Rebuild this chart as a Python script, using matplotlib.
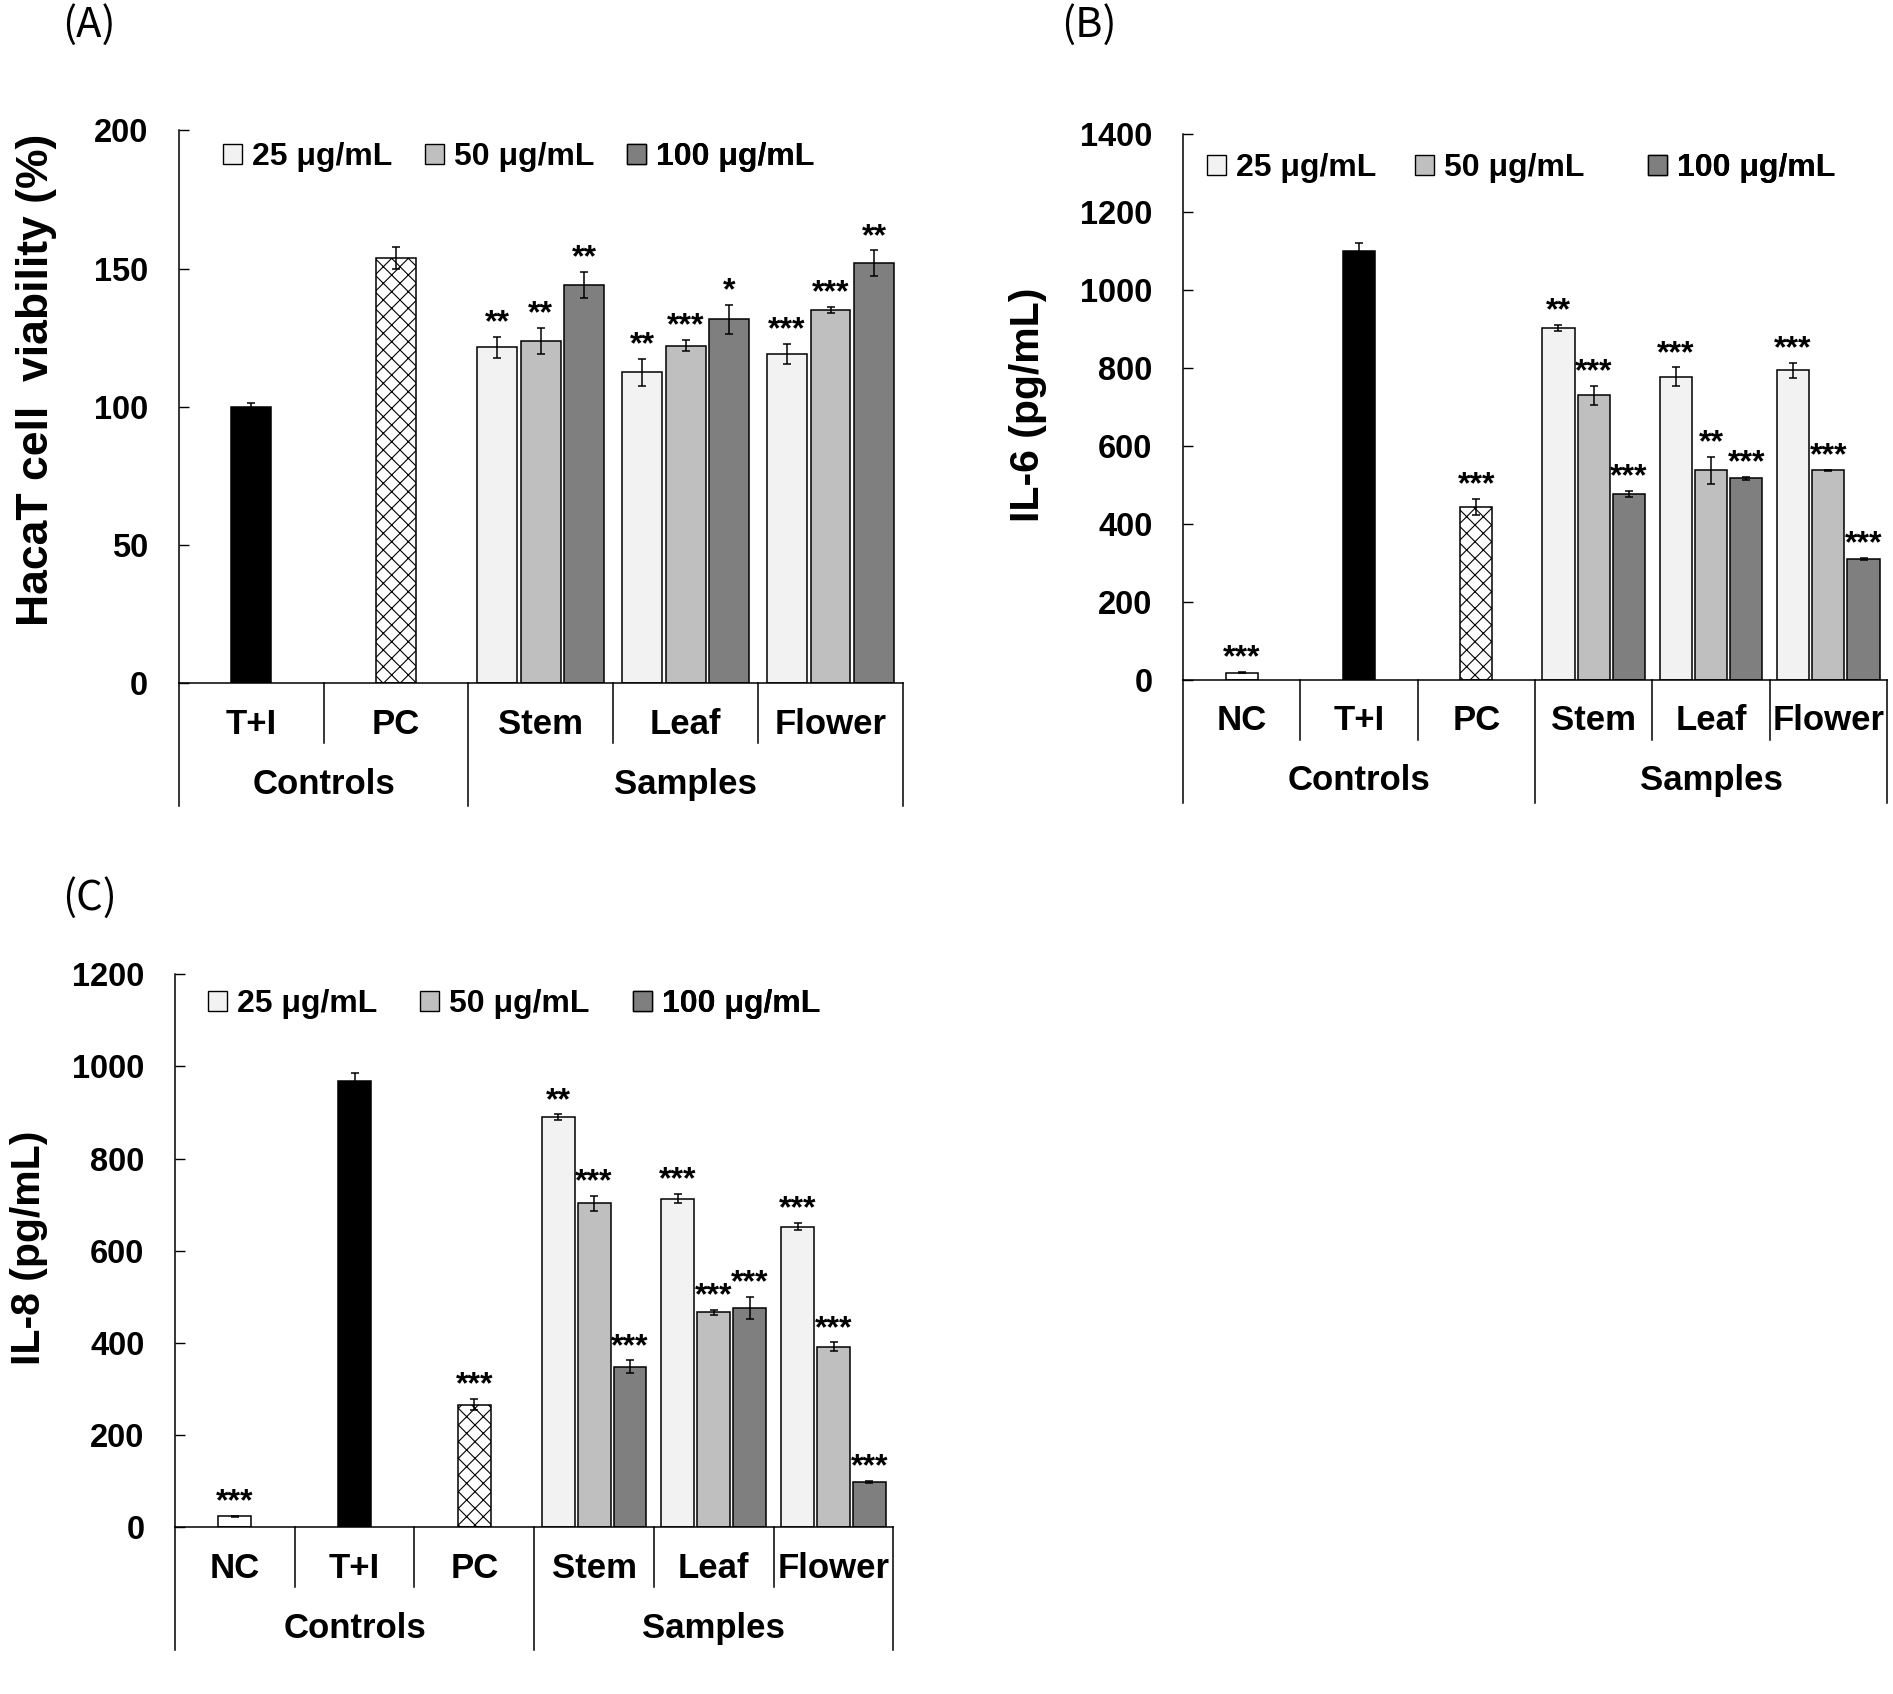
import numpy as np
import matplotlib
matplotlib.use("Agg")
import matplotlib.pyplot as plt
from matplotlib.patches import Patch
from matplotlib.transforms import blended_transform_factory

plt.rcParams['font.family'] = ['Liberation Sans', 'DejaVu Sans']
plt.rcParams['font.weight'] = 'bold'
plt.rcParams['hatch.linewidth'] = 0.8

# ---- data ----
doses = ['25 μg/mL', '50 μg/mL', '100 μg/mL']
dose_colors = ['#f2f2f2', '#bfbfbf', '#7f7f7f']
samples = ['Stem', 'Leaf', 'Flower']

# (A) HacaT viability
a_controls = ['T+I', 'PC']
a_ctrl_vals = [100, 154]
a_ctrl_err = [1.5, 4]
a_ctrl_stars = ['', '']
a_25 = [121.5, 112.5, 119.2]
a_25_err = [3.9, 4.8, 3.7]
a_50 = [123.8, 122.1, 135.1]
a_50_err = [4.8, 2.0, 1.1]
a_100 = [144.1, 131.6, 152.0]
a_100_err = [4.8, 5.3, 4.6]
a_stars = [['**', '**', '**'], ['**', '***', '*'], ['***', '***', '**']]

# (B) IL-6
b_controls = ['NC', 'T+I', 'PC']
b_ctrl_vals = [18, 1100, 443]
b_ctrl_err = [2, 20, 20]
b_ctrl_stars = ['***', '', '***']
b_25 = [902, 777, 794]
b_25_err = [8.5, 24, 19]
b_50 = [730, 537, 537]
b_50_err = [24, 35, 2]
b_100 = [477, 517, 309]
b_100_err = [7, 4, 3]
b_stars = [['**', '***', '***'], ['***', '**', '***'], ['***', '***', '***']]

# (C) IL-8
c_controls = ['NC', 'T+I', 'PC']
c_ctrl_vals = [24, 969, 266]
c_ctrl_err = [1, 17, 12]
c_ctrl_stars = ['***', '', '***']
c_25 = [890, 713, 652]
c_25_err = [6, 10, 8]
c_50 = [703, 466, 392]
c_50_err = [16, 6, 9]
c_100 = [348, 476, 99]
c_100_err = [14, 24, 2]
c_stars = [['**', '***', '***'], ['***', '***', '***'], ['***', '***', '***']]

W, H = 1893, 1694
fig = plt.figure(figsize=(W / 100, H / 100), dpi=100)


def make_ax(l, t, r, b):
    return fig.add_axes([l / W, 1 - b / H, (r - l) / W, (b - t) / H])


def ctrl_style(name):
    if name == 'T+I':
        return dict(color='black', hatch=None)
    if name == 'PC':
        return dict(color='white', hatch='xx')
    return dict(color='white', hatch=None)


def panel(ax, controls, cvals, cerr, cstars, v25, e25, v50, e50, v100, e100,
          stars, ymax, ystep, legend_x, legend_y):
    nc = len(controls)
    n = nc + len(samples)
    w, off = 0.275, 0.30
    bar_kw = dict(edgecolor='black', linewidth=1.1, zorder=2)
    err_kw = dict(elinewidth=1.1, capthick=1.1)
    ann_kw = dict(ha='center', va='bottom', fontsize=23, textcoords='offset points')

    for i, name in enumerate(controls):
        st = ctrl_style(name)
        ax.bar(i, cvals[i], w, yerr=cerr[i], color=st['color'], hatch=st['hatch'],
               capsize=3, error_kw=err_kw, **bar_kw)
        if cstars[i]:
            ax.annotate(cstars[i], (i, cvals[i] + cerr[i]), xytext=(0, -1), **ann_kw)

    xs = nc + np.arange(len(samples))
    series = [(v25, e25), (v50, e50), (v100, e100)]
    for k, (vals, errs) in enumerate(series):
        x = xs + (k - 1) * off
        ax.bar(x, vals, w, yerr=errs, color=dose_colors[k], capsize=3,
               error_kw=err_kw, **bar_kw)
        for j in range(len(samples)):
            ax.annotate(stars[j][k], (x[j], vals[j] + errs[j]), xytext=(0, -1), **ann_kw)

    ax.set_xlim(-0.5, n - 0.5)
    ax.set_ylim(0, ymax)
    ax.set_yticks(np.arange(0, ymax + 1, ystep))
    ax.set_xticks([])
    ax.tick_params(axis='y', direction='in', length=7, width=1, pad=22, labelsize=23.5)
    for s in ['top', 'right']:
        ax.spines[s].set_visible(False)
    for s in ['left', 'bottom']:
        ax.spines[s].set_linewidth(1.1)

    # two-level category axis
    hpx = ax.get_position().height * H
    tr = blended_transform_factory(ax.transData, ax.transAxes)
    for k in range(n + 1):
        depth = 123 if k in (0, nc, n) else 60
        ax.plot([k - 0.5, k - 0.5], [0, -depth / hpx], color='black', lw=1.1,
                transform=tr, clip_on=False)
    lab_kw = dict(xycoords=('data', 'axes fraction'), textcoords='offset pixels',
                  ha='center', va='center', annotation_clip=False, fontsize=25)
    for i, name in enumerate(controls + samples):
        ax.annotate(name, (i, 0), xytext=(0, -41), **lab_kw)
    ax.annotate('Controls', ((nc - 1) / 2, 0), xytext=(0, -101), **lab_kw)
    ax.annotate('Samples', (nc + (len(samples) - 1) / 2, 0), xytext=(0, -101), **lab_kw)

    for k in range(3):
        leg = ax.legend(handles=[Patch(facecolor=dose_colors[k], edgecolor='black', lw=1)],
                        labels=[doses[k]], loc='center left',
                        bbox_to_anchor=(legend_x[k] / W, 1 - legend_y / H),
                        bbox_transform=fig.transFigure, frameon=False, borderpad=0,
                        borderaxespad=0, handlelength=0.6, handleheight=0.6,
                        handletextpad=0.3, fontsize=23)
        ax.add_artist(leg)


axA = make_ax(178.7, 130.4, 903, 683.3)
panel(axA, a_controls, a_ctrl_vals, a_ctrl_err, a_ctrl_stars, a_25, a_25_err,
      a_50, a_50_err, a_100, a_100_err, a_stars, 200, 50, [223, 425, 627], 157.5)

axB = make_ax(1183, 134, 1887, 679.7)
panel(axB, b_controls, b_ctrl_vals, b_ctrl_err, b_ctrl_stars, b_25, b_25_err,
      b_50, b_50_err, b_100, b_100_err, b_stars, 1400, 200, [1207, 1415, 1648], 168)

axC = make_ax(175, 974.3, 893.4, 1527.2)
panel(axC, c_controls, c_ctrl_vals, c_ctrl_err, c_ctrl_stars, c_25, c_25_err,
      c_50, c_50_err, c_100, c_100_err, c_stars, 1200, 200, [208, 420, 633], 1004)

# axis titles and panel letters
ylab_kw = dict(rotation=90, ha='center', va='center', fontweight='bold')
fig.text(37 / W, 1 - 380 / H, 'HacaT cell  viability (%)', fontsize=32, **ylab_kw)
fig.text(1028 / W, 1 - 405 / H, 'IL-6 (pg/mL)', fontsize=29.5, **ylab_kw)
fig.text(29 / W, 1 - 1248 / H, 'IL-8 (pg/mL)', fontsize=29.5, **ylab_kw)

let_kw = dict(ha='left', va='center', fontsize=30, fontweight='normal',
              family=['Noto Sans CJK KR', 'DejaVu Sans'])
fig.text(62 / W, 1 - 25 / H, '(A)', **let_kw)
fig.text(1061 / W, 1 - 25 / H, '(B)', **let_kw)
fig.text(62 / W, 1 - 898 / H, '(C)', **let_kw)

fig.savefig('out.png', dpi=100)
